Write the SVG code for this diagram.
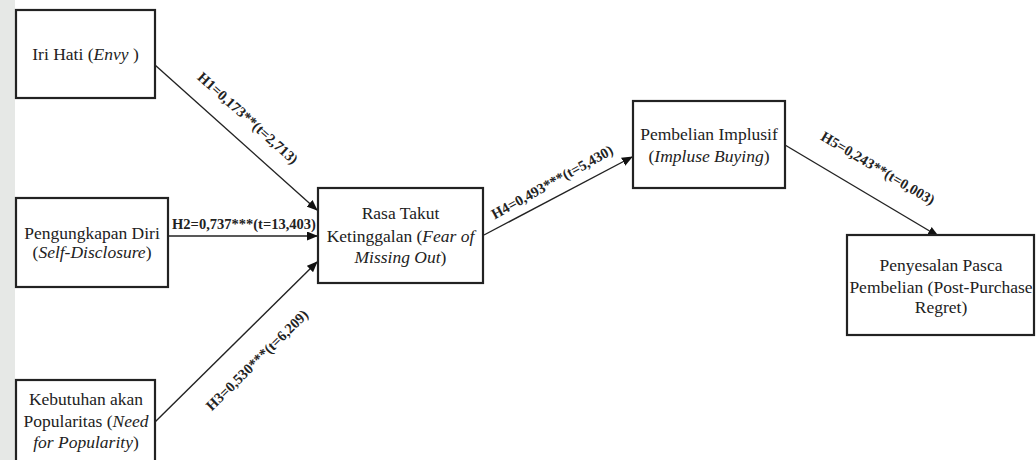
<svg xmlns="http://www.w3.org/2000/svg" width="1036" height="460" viewBox="0 0 1036 460">
<defs>
<marker id="arr" markerWidth="11" markerHeight="9" refX="10" refY="4.5" orient="auto" markerUnits="userSpaceOnUse">
<path d="M0,0 L11,4.5 L0,9 z" fill="#111"/>
</marker>
<style>
.box{fill:#fff;stroke:#222;stroke-width:2.2}
.t{font-size:17.5px;fill:#222;text-anchor:middle}
.lab{font-size:14.5px;font-weight:bold;fill:#222;text-anchor:middle}
.ln{stroke:#222;stroke-width:1.4;fill:none;marker-end:url(#arr)}
</style>
</defs>
<rect x="0" y="0" width="1036" height="460" fill="#fff"/>
<rect x="0" y="0" width="15" height="460" fill="#e6e8e6"/>
<g font-family="Liberation Serif, DejaVu Serif, serif">
<g id="connectors">
<line class="ln" x1="155" y1="65" x2="317" y2="210"/>
<line class="ln" x1="168" y1="236" x2="317" y2="236"/>
<line class="ln" x1="155" y1="422" x2="317" y2="262"/>
<line class="ln" x1="484" y1="235" x2="632" y2="157"/>
<line class="ln" x1="785" y1="145" x2="938" y2="236"/>
<text class="lab" font-family="Liberation Serif, DejaVu Serif, serif" transform="translate(248,118) rotate(42)" y="5">H1=0,173**(t=2,713)</text>
<text class="lab" font-family="Liberation Serif, DejaVu Serif, serif" x="244" y="229">H2=0,737***(t=13,403)</text>
<text class="lab" font-family="Liberation Serif, DejaVu Serif, serif" transform="translate(257,360) rotate(-44.5)" y="5">H3=0,530***(t=6,209)</text>
<text class="lab" font-family="Liberation Serif, DejaVu Serif, serif" transform="translate(552,182) rotate(-29)" y="5">H4=0,493***(t=5,430)</text>
<text class="lab" font-family="Liberation Serif, DejaVu Serif, serif" transform="translate(878,168) rotate(30.7)" y="5">H5=0,243**(t=0,003)</text>
</g>

<g id="node-envy">
<rect class="box" x="16" y="10" width="139" height="88"/>
<text class="t" font-family="Liberation Serif, DejaVu Serif, serif" x="85.5" y="60">Iri Hati (<tspan font-style="italic">Envy </tspan>)</text>
</g>

<g id="node-selfdisclosure">
<rect class="box" x="16" y="198" width="152" height="89"/>
<text class="t" font-family="Liberation Serif, DejaVu Serif, serif" x="92" y="239">Pengungkapan Diri</text>
<text class="t" font-family="Liberation Serif, DejaVu Serif, serif" x="92" y="258">(<tspan font-style="italic">Self-Disclosure</tspan>)</text>
</g>

<g id="node-popularity">
<rect class="box" x="16" y="380" width="139" height="90"/>
<text class="t" font-family="Liberation Serif, DejaVu Serif, serif" x="86" y="405">Kebutuhan akan</text>
<text class="t" font-family="Liberation Serif, DejaVu Serif, serif" x="86" y="427">Popularitas (<tspan font-style="italic">Need</tspan></text>
<text class="t" font-family="Liberation Serif, DejaVu Serif, serif" x="86" y="448"><tspan font-style="italic">for Popularity</tspan>)</text>
</g>

<g id="node-fomo">
<rect class="box" x="318" y="188" width="165" height="95"/>
<text class="t" font-family="Liberation Serif, DejaVu Serif, serif" x="400.5" y="219">Rasa Takut</text>
<text class="t" font-family="Liberation Serif, DejaVu Serif, serif" x="400.5" y="242">Ketinggalan (<tspan font-style="italic">Fear of</tspan></text>
<text class="t" font-family="Liberation Serif, DejaVu Serif, serif" x="400.5" y="263"><tspan font-style="italic">Missing Out</tspan>)</text>
</g>

<g id="node-impulse">
<rect class="box" x="633" y="101" width="152" height="87"/>
<text class="t" font-family="Liberation Serif, DejaVu Serif, serif" x="709" y="140">Pembelian Implusif</text>
<text class="t" font-family="Liberation Serif, DejaVu Serif, serif" x="709" y="162">(<tspan font-style="italic">Impluse Buying</tspan>)</text>
</g>

<g id="node-regret">
<rect class="box" x="847" y="235" width="187" height="100"/>
<text class="t" font-family="Liberation Serif, DejaVu Serif, serif" x="941" y="271">Penyesalan Pasca</text>
<text class="t" font-family="Liberation Serif, DejaVu Serif, serif" x="941" y="293">Pembelian (Post-Purchase</text>
<text class="t" font-family="Liberation Serif, DejaVu Serif, serif" x="941" y="313">Regret)</text>
</g>
</g>
</svg>
